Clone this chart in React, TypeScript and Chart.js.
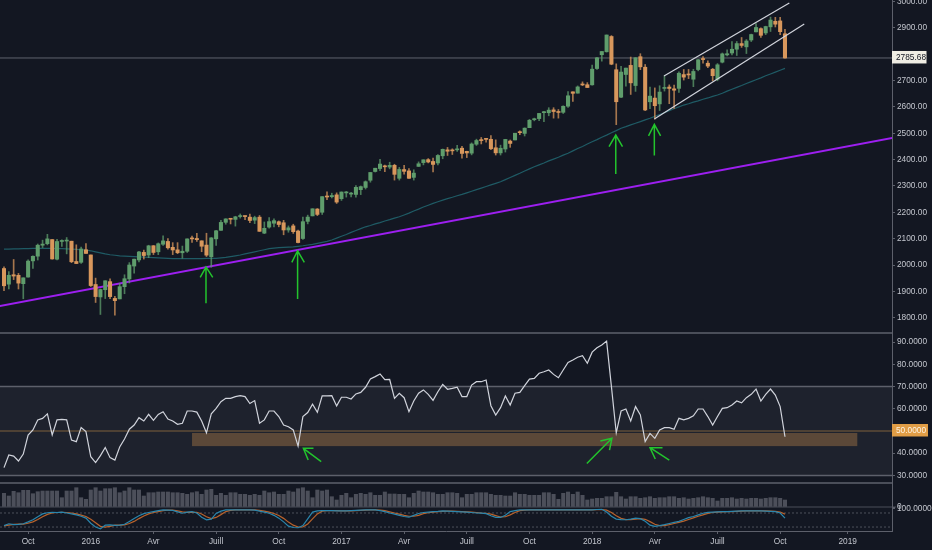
import React, { useEffect, useRef } from "react";
import { Chart, registerables } from "chart.js";

Chart.register(...registerables);

// ---------- Weekly S&P 500 candles, week 0 = 31 Aug 2015 ... week 162 = 8 Oct 2018 ----------
const OPEN = [
  1986.7, 1927.3, 1963.1, 1960.8, 1929.2, 1954.3, 2015.7, 2033.5, 2075.1, 2080.8,
  2096.6, 2022.1, 2089.4, 2090.9, 2090.4, 2013.4, 2010.3, 2057.8, 2038.2, 1926.1,
  1878.9, 1906.3, 1936.9, 1873.3, 1871.4, 1917.8, 1947.1, 1996.1, 2019.3, 2047.9,
  2037.9, 2073.2, 2050.2, 2078.8, 2089.4, 2067.2, 2057.6, 2046.5, 2052.2, 2100.1,
  2100.8, 2091.8, 2075.6, 2031.5, 2099.3, 2131.7, 2162.0, 2173.7, 2173.1, 2183.8,
  2186.1, 2181.6, 2170.2, 2181.6, 2120.9, 2143.9, 2158.5, 2164.3, 2160.4, 2132.9,
  2148.5, 2129.0, 2100.6, 2165.6, 2186.4, 2212.5, 2200.2, 2258.8, 2259.2, 2266.2,
  2251.6, 2273.6, 2269.1, 2267.8, 2286.0, 2294.3, 2321.7, 2354.9, 2366.1, 2375.1,
  2371.6, 2378.2, 2329.1, 2362.3, 2357.2, 2332.6, 2374.2, 2388.5, 2399.9, 2393.0,
  2387.2, 2414.5, 2437.0, 2434.2, 2437.0, 2443.3, 2431.4, 2424.5, 2458.4, 2473.0,
  2477.1, 2477.1, 2444.9, 2425.5, 2440.2, 2470.4, 2474.5, 2502.5, 2499.4, 2521.2,
  2551.4, 2555.6, 2578.1, 2577.8, 2588.7, 2580.2, 2579.5, 2602.7, 2657.2, 2652.2,
  2685.6, 2684.2, 2683.7, 2745.6, 2798.0, 2809.2, 2867.2, 2741.1, 2636.8, 2723.0,
  2757.6, 2681.1, 2790.5, 2750.6, 2619.4, 2633.5, 2611.4, 2670.1, 2675.4, 2668.6,
  2670.3, 2722.7, 2725.0, 2705.1, 2741.7, 2780.2, 2765.8, 2742.9, 2705.0, 2769.8,
  2797.4, 2804.6, 2819.0, 2840.3, 2827.9, 2853.9, 2884.7, 2897.0, 2880.7, 2903.8,
  2924.9, 2926.3, 2877.5,
];
const HIGH = [
  1993.5, 1975.0, 2020.9, 1968.2, 1951.4, 2020.1, 2034.5, 2079.7, 2094.3, 2116.5,
  2096.6, 2097.1, 2095.6, 2104.3, 2090.4, 2076.7, 2067.6, 2081.6, 2038.2, 1950.3,
  1908.9, 1940.2, 1947.2, 1881.6, 1930.7, 1963.0, 2009.1, 2022.4, 2052.4, 2056.6,
  2075.1, 2073.8, 2083.8, 2111.1, 2099.9, 2084.9, 2084.9, 2071.9, 2099.3, 2110.0,
  2120.6, 2091.8, 2120.6, 2104.3, 2131.7, 2169.1, 2175.6, 2177.1, 2185.0, 2193.8,
  2187.0, 2193.4, 2185.4, 2187.9, 2163.3, 2180.0, 2175.3, 2167.3, 2169.6, 2148.4,
  2154.8, 2133.0, 2182.3, 2189.3, 2213.4, 2214.1, 2259.5, 2277.5, 2272.6, 2273.8,
  2277.5, 2279.3, 2276.2, 2301.0, 2299.9, 2319.2, 2351.3, 2367.3, 2401.0, 2378.8,
  2390.0, 2382.4, 2370.4, 2378.4, 2366.4, 2361.4, 2391.4, 2399.3, 2403.9, 2405.8,
  2418.7, 2440.2, 2446.2, 2441.0, 2453.8, 2450.4, 2432.0, 2463.5, 2477.6, 2484.0,
  2480.4, 2490.9, 2474.9, 2454.8, 2477.1, 2474.4, 2500.2, 2508.9, 2520.4, 2552.5,
  2557.4, 2575.4, 2583.0, 2597.0, 2597.0, 2590.1, 2604.2, 2657.7, 2657.2, 2679.6,
  2695.0, 2692.1, 2759.1, 2787.9, 2810.3, 2872.9, 2870.6, 2763.4, 2754.4, 2747.8,
  2789.2, 2786.6, 2801.9, 2761.0, 2674.8, 2672.1, 2680.3, 2717.5, 2683.6, 2682.9,
  2732.9, 2742.1, 2742.2, 2742.9, 2779.9, 2791.0, 2775.0, 2746.1, 2764.4, 2804.6,
  2816.4, 2848.0, 2848.2, 2863.4, 2855.6, 2876.2, 2916.5, 2900.2, 2906.3, 2940.9,
  2939.9, 2939.9, 2894.8,
];
const LOW = [
  1903.1, 1909.2, 1944.7, 1908.9, 1871.9, 1953.4, 1987.5, 2018.9, 2066.2, 2076.4,
  2022.3, 2019.4, 2070.3, 2042.3, 2008.8, 2005.1, 2005.9, 2043.6, 1918.5, 1857.8,
  1812.3, 1872.7, 1872.7, 1810.1, 1871.4, 1891.0, 1931.8, 1969.3, 2012.1, 2022.5,
  2027.7, 2039.7, 2039.4, 2074.0, 2060.3, 2039.5, 2043.0, 2025.9, 2047.6, 2085.4,
  2089.1, 2050.4, 2032.1, 1991.7, 2074.0, 2131.7, 2154.8, 2155.8, 2147.6, 2177.9,
  2172.2, 2160.4, 2157.1, 2127.8, 2119.1, 2139.6, 2145.0, 2144.9, 2114.7, 2124.3,
  2119.9, 2083.8, 2097.6, 2156.1, 2186.4, 2187.4, 2191.8, 2248.4, 2254.4, 2233.6,
  2245.1, 2257.8, 2258.4, 2257.0, 2267.2, 2288.4, 2314.3, 2352.9, 2357.9, 2354.6,
  2365.0, 2322.3, 2322.3, 2344.5, 2328.9, 2322.3, 2374.2, 2380.0, 2387.5, 2353.0,
  2379.8, 2403.2, 2415.7, 2419.4, 2431.2, 2405.7, 2407.7, 2418.0, 2453.8, 2459.4,
  2466.5, 2437.8, 2417.4, 2417.4, 2428.7, 2446.6, 2474.5, 2495.0, 2489.6, 2521.2,
  2547.1, 2547.9, 2544.0, 2566.3, 2557.4, 2557.4, 2575.0, 2598.0, 2620.6, 2652.2,
  2680.7, 2673.6, 2682.4, 2742.5, 2773.6, 2808.1, 2760.0, 2532.7, 2634.9, 2679.1,
  2647.3, 2658.9, 2741.4, 2585.9, 2593.1, 2553.8, 2586.3, 2660.0, 2612.2, 2594.6,
  2655.2, 2701.9, 2707.4, 2676.8, 2736.9, 2765.8, 2749.2, 2698.7, 2699.0, 2766.9,
  2793.8, 2797.0, 2795.1, 2825.8, 2802.5, 2848.0, 2884.7, 2864.1, 2874.3, 2886.2,
  2903.3, 2874.0, 2784.9,
];
const CLOSE = [
  1921.2, 1961.1, 1958.1, 1931.3, 1951.4, 2014.9, 2033.1, 2075.2, 2079.4, 2099.2,
  2023.0, 2089.2, 2090.1, 2091.7, 2012.4, 2005.6, 2060.9, 2043.9, 1922.0, 1880.3,
  1906.9, 1940.2, 1880.1, 1864.8, 1917.8, 1948.1, 2000.0, 2022.2, 2049.6, 2035.9,
  2072.8, 2047.6, 2080.7, 2091.6, 2065.3, 2057.1, 2046.6, 2052.3, 2099.1, 2099.1,
  2096.1, 2071.2, 2037.4, 2102.9, 2129.9, 2161.7, 2175.0, 2173.6, 2182.9, 2184.1,
  2183.9, 2169.0, 2180.0, 2127.8, 2139.2, 2164.7, 2168.3, 2153.7, 2133.0, 2141.2,
  2126.4, 2085.2, 2164.5, 2181.9, 2213.4, 2192.0, 2259.5, 2258.1, 2263.8, 2238.8,
  2277.0, 2274.6, 2271.3, 2294.7, 2297.4, 2316.1, 2351.2, 2367.3, 2383.1, 2372.6,
  2378.3, 2344.0, 2362.7, 2355.5, 2329.0, 2348.7, 2384.2, 2399.3, 2390.9, 2381.7,
  2415.8, 2439.1, 2431.8, 2433.2, 2438.3, 2423.4, 2425.2, 2459.3, 2472.5, 2472.1,
  2476.8, 2441.3, 2425.6, 2443.1, 2476.6, 2461.4, 2500.2, 2502.2, 2519.4, 2549.3,
  2553.2, 2575.2, 2581.1, 2587.8, 2582.3, 2578.9, 2602.4, 2642.2, 2651.5, 2675.8,
  2683.3, 2673.6, 2743.2, 2786.2, 2810.3, 2872.9, 2762.1, 2619.6, 2732.2, 2747.3,
  2691.3, 2786.6, 2752.0, 2588.3, 2640.9, 2604.5, 2656.3, 2670.1, 2669.9, 2663.4,
  2727.7, 2713.0, 2721.3, 2734.6, 2779.0, 2779.7, 2754.9, 2718.4, 2759.8, 2801.3,
  2801.8, 2818.8, 2840.4, 2833.3, 2850.1, 2874.7, 2901.5, 2871.7, 2905.0, 2929.7,
  2914.0, 2885.6, 2785.68,
];
// moving average (teal line)
const MA = [
  2060, 2060, 2061, 2061, 2062, 2062, 2063, 2063, 2063, 2063,
  2063, 2062, 2062, 2061, 2060, 2059, 2058, 2057, 2054, 2050,
  2046, 2042, 2039, 2037, 2035, 2034, 2033, 2032, 2031, 2030,
  2029, 2028, 2027, 2026, 2025, 2024, 2024, 2024, 2024, 2024,
  2024, 2024, 2025, 2025, 2025, 2027, 2029, 2032, 2035, 2038,
  2042, 2046, 2050, 2054, 2058, 2062, 2064, 2066, 2067, 2068,
  2069, 2071, 2073, 2076, 2078, 2082, 2086, 2090, 2095, 2102,
  2109, 2116, 2124, 2131, 2138, 2145, 2150, 2156, 2161, 2167,
  2172, 2178, 2183, 2190, 2197, 2205, 2212, 2220, 2227, 2234,
  2240, 2246, 2252, 2257, 2263, 2268, 2274, 2280, 2286, 2292,
  2298, 2304, 2310, 2316, 2324, 2332, 2340, 2348, 2357, 2365,
  2373, 2380, 2387, 2395, 2402, 2409, 2417, 2424, 2433, 2442,
  2450, 2459, 2468, 2476, 2485, 2493, 2502, 2510, 2519, 2525,
  2532, 2538, 2544, 2551, 2557, 2564, 2571, 2578, 2586, 2593,
  2600, 2607, 2612, 2618, 2623, 2629, 2634, 2640, 2645, 2652,
  2660, 2667, 2674, 2681, 2689, 2696, 2703, 2710, 2718, 2725,
  2732, 2739, 2746,
];
const RSI = [
  33.5, 39.2, 38.7, 36.5, 39.6, 48.2, 50.5, 55, 55.7, 57.7,
  48.2, 55, 55.2, 55, 45.9, 45.2, 51.6, 49.7, 38.4, 35.8,
  38.9, 42.6, 38, 36.9, 42.8, 46.4, 50.8, 52.7, 56, 54.5,
  57.5, 54.8, 57.5, 58.7, 55.4, 54.5, 53, 53.5, 59, 59,
  58.5, 54.5, 49.2, 57.7, 60.2, 63.2, 64.7, 64.7, 65.5, 65.9,
  65.5, 62.4, 63.7, 53.5, 55, 59, 59, 56.5, 52.7, 51.9,
  50.5, 43.2, 56.5, 58.3, 62.1, 58.4, 65.8, 65.8, 65.9, 61.3,
  65.2, 65.2, 64.4, 66.7, 67.4, 69.7, 73.4, 74.5, 75.7, 73.1,
  73.2, 64.7, 67, 65, 58.7, 63.5, 67, 68.5, 66.5, 63.8,
  67.7, 71, 68.8, 69.2, 69.7, 65.5, 65.5, 70.7, 72.2, 72.2,
  73, 61.4, 57.2, 60.5, 65.8, 61.7, 67, 67.4, 70.4, 73.4,
  73.7, 76, 76.7, 77.5, 75.5, 74, 77.5, 80.9, 82, 83.2,
  83.9, 80.5, 85.5, 87.5, 88.7, 90.5, 70, 49.2, 59, 59.9,
  54.5, 61, 57.2, 45.2, 48.9, 46.7, 50.5, 51.5, 51.5, 50.8,
  55.7, 55, 55.7, 56.8, 59.9, 59.9, 56.5, 52.7, 56.5, 60.2,
  60.5, 61.7, 63.5, 62.7, 65, 66.5, 68.9, 63.5, 66.5, 68.9,
  66.2, 61, 47.4,
];
// weekly volume (billions of shares)
const VOLUME = [
  13.7, 11, 15.7, 14.3, 16.7, 16.7, 13.3, 15.3, 16, 16,
  16, 16, 9.3, 16, 16, 19.3, 9.3, 7.7, 17, 19.3,
  16, 18.3, 18.3, 19.3, 14.3, 16, 19.3, 17, 17, 11,
  14.3, 14.3, 15, 15, 15, 14.3, 14.3, 13.7, 12.7, 14.3,
  15.3, 12.7, 17, 17.7, 11.7, 13.7, 11.7, 14.3, 14.3, 12.7,
  12.7, 11.7, 12.7, 11.7, 16, 14.3, 15, 12.7, 12.7, 16,
  15, 18.3, 19.3, 16, 9.3, 17, 16, 17, 10.3, 7,
  11.7, 13.7, 9.3, 12.7, 13.7, 12.7, 14.3, 11.7, 11.7, 15,
  13, 13, 12.7, 12.7, 9.3, 13.7, 16, 15, 15, 14.3,
  12.7, 12.7, 14.3, 14.3, 13.7, 9.3, 12.7, 12.7, 14.3, 14.3,
  14.3, 12.7, 11.7, 11.7, 11, 11, 14.3, 12.7, 12.7, 11.7,
  11.7, 11.7, 14.3, 14.3, 12.7, 7.7, 13.7, 15, 12.7, 15,
  11.7, 7, 8, 8.7, 8.7, 10.3, 10.3, 14.7, 10.3, 8,
  10.3, 10.3, 8.7, 9.3, 10.3, 8.7, 9.3, 9.3, 10.3, 10.3,
  8.7, 9.3, 8, 8.7, 9.3, 10.3, 9.3, 8.7, 6, 8.7,
  8.7, 9.3, 8, 8.7, 8, 8.7, 8.7, 8, 8.7, 9.3,
  9.3, 8.7, 7,
];
const STOCH_K = [
  26, 34, 30, 31, 34, 42, 51, 64, 76, 81,
  83, 82, 84, 80, 76, 72, 66, 58, 36, 20,
  12, 28, 29, 27, 28, 32, 44, 56, 68, 77,
  82, 86, 90, 93, 92, 91, 85, 79, 84, 86,
  80, 62, 51, 54, 78, 88, 93, 93, 93, 93,
  93, 93, 92, 88, 84, 79, 70, 58, 42, 24,
  18, 17, 26, 55, 84, 89, 90, 90, 90, 89,
  89, 89, 90, 91, 92, 93, 93, 93, 90, 86,
  80, 75, 70, 65, 62, 70, 78, 82, 84, 86,
  87, 89, 88, 87, 86, 85, 84, 82, 80, 79,
  77, 68, 61, 61, 70, 86, 90, 93, 93, 93,
  93, 93, 93, 93, 93, 93, 93, 93, 93, 93,
  93, 93, 93, 95, 96, 84, 66, 54, 52, 51,
  54, 58, 56, 45, 28, 23, 26, 30, 35, 40,
  44, 52, 60, 65, 72, 79, 83, 84, 85, 86,
  86, 87, 88, 89, 89, 89, 89, 89, 88, 87,
  86, 80, 58,
];
const STOCH_D = [
  25, 28, 31, 32, 32, 36, 42, 52, 64, 74,
  80, 82, 83, 82, 80, 76, 71, 65, 53, 38,
  23, 20, 23, 28, 28, 29, 35, 44, 56, 67,
  76, 82, 86, 90, 92, 92, 89, 85, 83, 83,
  83, 76, 64, 56, 61, 73, 86, 91, 93, 93,
  93, 93, 93, 91, 88, 84, 78, 69, 57, 41,
  28, 20, 20, 33, 55, 76, 88, 90, 90, 90,
  89, 89, 89, 90, 91, 92, 93, 93, 92, 90,
  85, 80, 75, 70, 66, 66, 70, 77, 81, 84,
  86, 87, 88, 88, 87, 86, 85, 84, 82, 80,
  79, 75, 69, 63, 64, 72, 82, 90, 92, 93,
  93, 93, 93, 93, 93, 93, 93, 93, 93, 93,
  93, 93, 93, 94, 95, 92, 82, 68, 57, 52,
  52, 54, 56, 53, 43, 32, 26, 26, 30, 35,
  40, 45, 52, 59, 66, 72, 78, 82, 84, 85,
  86, 86, 87, 88, 89, 89, 89, 89, 89, 88,
  87, 84, 75,
];

// ---------- axes ----------
const X_RANGE = [-0.83, 184.2];
const X_TICK_WEEKS = [5, 18, 31, 44, 57, 70, 83, 96, 109, 122, 135, 148, 161, 175];
const X_TICK_LABELS = ["Oct", "2016", "Avr", "Juill", "Oct", "2017", "Avr", "Juill", "Oct", "2018", "Avr", "Juill", "Oct", "2019"];
const PRICE_RANGE = [1742, 3005.7];
const PRICE_TICKS = [1800, 1900, 2000, 2100, 2200, 2300, 2400, 2500, 2600, 2700, 2800, 2900, 3000];
const RSI_RANGE = [26.58, 94.14];
const RSI_TICKS = [30, 40, 50, 60, 70, 80, 90];
const VOLUME_RANGE = [0, 24];
const VOLUME_TICKS = [0];
const STOCH_RANGE = [3, 105.6];
const STOCH_TICKS = [100];

const LAST_PRICE = 2785.68;
const RSI_MID = 50;
const RSI_BAND = [30, 70];
const STOCH_BAND = [20, 80];

// ---------- drawings (week index, value) ----------
const TREND_LINE = [{ x: -1, y: 1844 }, { x: 186, y: 2488 }];
const CHANNEL_UPPER = [{ x: 136.9, y: 2717 }, { x: 162.9, y: 2994 }];
const CHANNEL_LOWER = [{ x: 134.9, y: 2554 }, { x: 166, y: 2915 }];
const PRICE_ARROWS = [
  { tail: [41.9, 1855], tip: [41.9, 1993], heads: [[40.7, 1953], [43.3, 1953]] },
  { tail: [60.9, 1871], tip: [60.9, 2054], heads: [[59.7, 2010], [62.3, 2010]] },
  { tail: [126.9, 2345], tip: [126.9, 2493], heads: [[125.5, 2449], [128.3, 2449]] },
  { tail: [134.9, 2416], tip: [134.9, 2534], heads: [[133.7, 2490], [136.2, 2490]] },
];
const RSI_ARROWS = [
  { tail: [65.8, 36.2], tip: [62.1, 42.2], heads: [[64.2, 42.2], [63.1, 36.9]] },
  { tail: [120.9, 35.4], tip: [126.1, 46.7], heads: [[123.7, 45.5], [125.6, 41.4]] },
  { tail: [138.0, 36.9], tip: [134.0, 42.5], heads: [[136.6, 42.5], [135.1, 37.4]] },
];
const RSI_ZONE = { from: 39, to: 177, low: 43.2, high: 49.1 };

// ---------- styles ----------
const BG = "#131722";
const FONT = "'Liberation Sans', Arial, sans-serif";
const FONT_SIZE = 8.3;
const TEXT = "#c3c6ce";
const AXIS = "#5d606b";
const GREEN = "#5f9d6c";
const ORANGE = "#d8975c";
const GREEN_WICK = "rgba(95,157,108,0.75)";
const ORANGE_WICK = "rgba(216,151,92,0.75)";

export default function App() {
  const ref = useRef<HTMLCanvasElement>(null);

  useEffect(() => {
    const canvas = ref.current;
    if (!canvas) return;

    const up = CLOSE.map((c, i) => c >= OPEN[i]);
    const pt = (x: number, y: any) => ({ x, y });
    const series = (arr: number[]) => arr.map((v, i) => pt(i, v));
    const arrowData = (a: any) => [
      pt(a.tail[0], a.tail[1]), pt(a.tip[0], a.tip[1]), pt(a.tip[0], null),
      pt(a.heads[0][0], a.heads[0][1]), pt(a.tip[0], a.tip[1]), pt(a.heads[1][0], a.heads[1][1]),
    ];
    const line = (data: any[], yAxisID: string, color: string, width: number, order: number) => ({
      type: "line" as const, data, yAxisID, borderColor: color, borderWidth: width,
      pointRadius: 0, pointHoverRadius: 0, tension: 0, fill: false, order,
    });

    // hide a tick label that sits under a value tag (as the trading platform does)
    const yAxis = (weight: number, range: number[], ticks: number[], decimals: number, tagValue?: number, tagGap = 0) => ({
      type: "linear", position: "right", stack: "panes", stackWeight: weight,
      min: range[0], max: range[1],
      grid: { drawOnChartArea: false, drawTicks: true, tickLength: 3, color: AXIS },
      border: { display: true, color: AXIS, width: 1 },
      ticks: {
        color: TEXT, font: { family: FONT, size: FONT_SIZE }, padding: 2, autoSkip: false,
        callback: (v: any) =>
          tagValue !== undefined && Math.abs(Number(v) - tagValue) < tagGap ? "" : Number(v).toFixed(decimals),
      },
      afterBuildTicks: (s: any) => { s.ticks = ticks.map((v) => ({ value: v })); },
      afterFit: (s: any) => { s.width = 40; s.paddingTop = 0; s.paddingBottom = 0; },
    });

    const panes = {
      id: "panes",
      beforeDraw(chart: any) {
        const { ctx, chartArea: ca, scales } = chart;
        const r = scales.yRsi, st = scales.yStoch, xs = scales.x;
        const hline = (y: number, color: string, w: number, x1 = ca.right) => {
          ctx.strokeStyle = color; ctx.lineWidth = w;
          ctx.beginPath(); ctx.moveTo(ca.left, y); ctx.lineTo(x1, y); ctx.stroke();
        };
        ctx.save();
        ctx.fillStyle = BG;
        ctx.fillRect(0, 0, chart.width, chart.height);
        const yHi = r.getPixelForValue(RSI_BAND[1]);
        const yLo = r.getPixelForValue(RSI_BAND[0]);
        ctx.fillStyle = "#1e222d";
        ctx.fillRect(ca.left, yHi, ca.right - ca.left, yLo - yHi);
        hline(yHi, "#5d606b", 1.5);
        hline(yLo, "#5d606b", 1.5);
        const zx0 = xs.getPixelForValue(RSI_ZONE.from), zx1 = xs.getPixelForValue(RSI_ZONE.to);
        const zy0 = r.getPixelForValue(RSI_ZONE.high), zy1 = r.getPixelForValue(RSI_ZONE.low);
        ctx.fillStyle = "#5b4838";
        ctx.fillRect(zx0, zy0, zx1 - zx0, zy1 - zy0);
        hline(r.getPixelForValue(RSI_MID), "#7f603c", 1);
        ctx.setLineDash([2, 2]);
        STOCH_BAND.forEach((v) => hline(st.getPixelForValue(v), "#4c505b", 1));
        ctx.setLineDash([]);
        [r.top, scales.yVol.top].forEach((y: number) => hline(y, "#4a4e59", 2));
        hline(st.top, "#4a4e59", 1.2, ca.right + 4);
        ctx.restore();
      },
      afterDraw(chart: any) {
        const { ctx, chartArea: ca, scales } = chart;
        const tag = (y: number, text: string, fill: string, color: string, w: number) => {
          ctx.fillStyle = fill;
          ctx.fillRect(ca.right, y - 7, w, 12.5);
          ctx.fillStyle = color;
          ctx.font = `${FONT_SIZE}px ${FONT}`;
          ctx.textAlign = "left";
          ctx.textBaseline = "middle";
          ctx.fillText(text, ca.right + 4, y - 0.5);
        };
        ctx.save();
        tag(scales.yPrice.getPixelForValue(LAST_PRICE), LAST_PRICE.toFixed(2), "#efede4", "#131722", 34.5);
        tag(scales.yRsi.getPixelForValue(RSI_MID), RSI_MID.toFixed(4), "#e09d46", "#fdf3e4", 36);
        ctx.restore();
      },
    };

    const datasets: any[] = [
      line(TREND_LINE, "yPrice", "#9d1ff0", 2, 9),
      line(series(MA), "yPrice", "#1f5b65", 1.2, 8),
      line([pt(X_RANGE[0] - 1, LAST_PRICE), pt(X_RANGE[1] + 1, LAST_PRICE)], "yPrice", "#5f626c", 1, 7),
      {
        type: "bar", data: OPEN.map((o, i) => pt(i, [LOW[i], HIGH[i]])), yAxisID: "yPrice",
        backgroundColor: up.map((u) => (u ? GREEN_WICK : ORANGE_WICK)), barThickness: 1, grouped: false, order: 6,
      },
      {
        type: "bar", data: OPEN.map((o, i) => pt(i, [o, CLOSE[i]])), yAxisID: "yPrice",
        backgroundColor: up.map((u) => (u ? GREEN : ORANGE)), barThickness: 3.4, grouped: false,
        minBarLength: 1, order: 5,
      },
      line(CHANNEL_UPPER, "yPrice", "#d1d4dc", 1.2, 4),
      line(CHANNEL_LOWER, "yPrice", "#d1d4dc", 1.2, 4),
      ...PRICE_ARROWS.map((a) => line(arrowData(a), "yPrice", "#23c42d", 1.5, 1)),
      line(series(RSI), "yRsi", "#d1d4dc", 1.2, 3),
      ...RSI_ARROWS.map((a) => line(arrowData(a), "yRsi", "#23c42d", 1.5, 1)),
      {
        type: "bar", data: series(VOLUME), yAxisID: "yVol", backgroundColor: "#4c4f5a",
        barThickness: 3.4, grouped: false, order: 6,
      },
      line(series(STOCH_D), "yStoch", "#b8622c", 1.2, 3),
      line(series(STOCH_K), "yStoch", "#2a86ad", 1.2, 2),
    ];

    const chart = new Chart(canvas, {
      type: "bar",
      data: { datasets },
      options: {
        animation: false,
        responsive: true,
        maintainAspectRatio: false,
        events: [],
        layout: { padding: 0 },
        plugins: { legend: { display: false }, tooltip: { enabled: false } },
        scales: {
          x: {
            type: "linear", position: "bottom", min: X_RANGE[0], max: X_RANGE[1], offset: false,
            grid: { drawOnChartArea: false, drawTicks: true, tickLength: 3, color: AXIS, offset: false },
            border: { display: true, color: AXIS, width: 1 },
            ticks: {
              color: TEXT, font: { family: FONT, size: FONT_SIZE }, padding: 3, autoSkip: false, maxRotation: 0,
              callback: (_v: any, i: number) => X_TICK_LABELS[i],
            },
            afterBuildTicks: (s: any) => { s.ticks = X_TICK_WEEKS.map((v) => ({ value: v })); },
            afterFit: (s: any) => { s.height = 19; s.paddingLeft = 0; s.paddingRight = 0; },
          },
          yPrice: yAxis(333, PRICE_RANGE, PRICE_TICKS, 2, LAST_PRICE, 40),
          yRsi: yAxis(150, RSI_RANGE, RSI_TICKS, 4, RSI_MID, 3),
          yVol: yAxis(24, VOLUME_RANGE, VOLUME_TICKS, 0),
          yStoch: yAxis(24, STOCH_RANGE, STOCH_TICKS, 4),
        } as any,
      },
      plugins: [panes],
    } as any);

    return () => chart.destroy();
  }, []);

  return (
    <div style={{ position: "fixed", left: 0, top: 0, width: 932, height: 550, background: BG }}>
      <canvas ref={ref} />
    </div>
  );
}
